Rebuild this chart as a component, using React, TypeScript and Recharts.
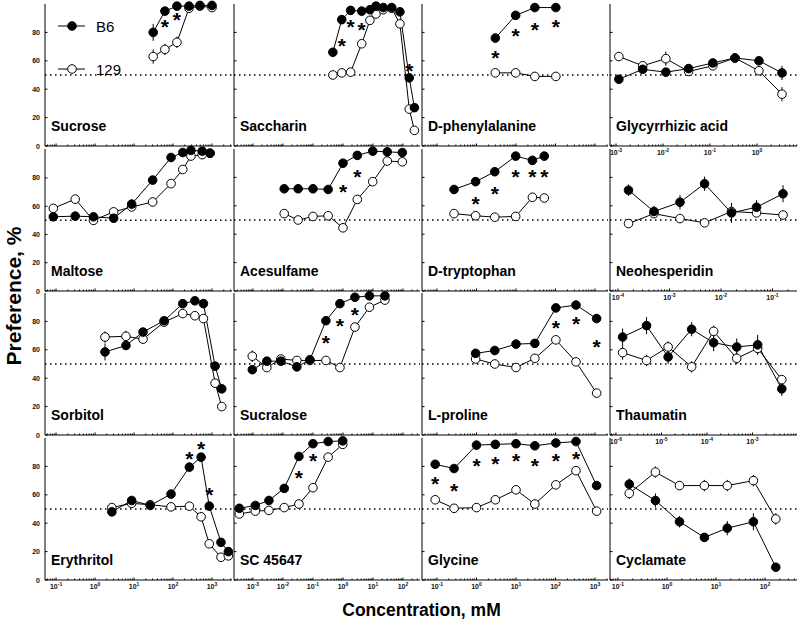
import React from 'react';
import { ComposedChart, Line, XAxis, YAxis, ReferenceLine, ErrorBar } from 'recharts';

const FONT = '"Liberation Sans", Arial, Helvetica, sans-serif';

// ---------------- data (concentration in mM, preference in %) ----------------
// Sucrose
const sucroseConc = [31, 62, 126, 257, 490, 1000];
const sucroseB6 = [80, 95, 98.5, 98.5, 99, 99];
const sucrose129 = [63, 68, 73, 97, 98.5, 97.5];
const sucroseB6Err = [6, 2, 1, 1, 1, 1];
const sucrose129Err = [5, 4, 4, 1, 1, 1];
const sucroseStars = [null, 87, 92, null, null, null];

// Saccharin
const saccharinConc = [0.46, 0.91, 1.8, 4.2, 7.9, 12.6, 22, 42, 79, 162, 240];
const saccharinB6 = [66, 89, 95.5, 95, 96, 98.5, 97.5, 97.5, 94.5, 48, 27];
const saccharin129 = [50, 51.5, 52, 72, 88.5, 93, 96, 97, 86, 26, 11];
const saccharinB6Err = [2, 2, 1, 1, 1, 1, 1, 1, 1, 2, 2];
const saccharin129Err = [2, 2, 2, 2, 1, 1, 1, 1, 2, 2, 2];
const saccharinStars = [null, 74, 87, 85.5, null, null, null, null, null, 56, null];

// D-phenylalanine
const dpheConc = [3, 9.8, 30, 102];
const dpheB6 = [76, 92, 97.5, 97.5];
const dphe129 = [51.5, 51.5, 49, 49];
const dpheB6Err = [3, 1, 1, 1];
const dphe129Err = [1.5, 1, 1.5, 2];
const dpheStars = [65.5, 81, 85, 87];

// Glycyrrhizic acid
const glycConc = [0.00115, 0.0037, 0.0115, 0.035, 0.115, 0.34, 1.1, 3.4];
const glycB6 = [47, 54, 52, 54.5, 58.5, 62, 60, 51.5];
const glyc129 = [63, 56.5, 61.5, 52.5, 56.5, 62, 53, 36.5];
const glycB6Err = [2, 2, 2, 2, 2, 2, 2, 5];
const glyc129Err = [3, 2, 5, 2, 2, 2, 2, 5];

// Maltose
const maltoseConc = [0.085, 0.31, 0.91, 3, 8.7, 30, 89, 178, 288, 562, 891];
const maltoseB6 = [52.5, 53, 52.5, 51.5, 61.5, 78.5, 94.5, 98, 99.5, 99, 97.5];
const maltose129 = [58.5, 65, 50, 56, 59.5, 63, 76, 86, 95.5, 96.5, 97.5];
const maltoseB6Err = [1.5, 1.5, 2, 1.5, 2, 2, 1, 1, 1, 1, 1];
const maltose129Err = [2, 3, 3, 2, 2, 3, 2, 2, 1, 1, 1];

// Acesulfame
const acesulfameConc = [0.011, 0.032, 0.1, 0.32, 1, 3, 9.8, 30, 95];
const acesulfameB6 = [72, 72, 72, 71.5, 90, 95.5, 98.5, 98, 97.5];
const acesulfame129 = [54.5, 50, 52.5, 53, 44.5, 64.5, 77, 91.5, 91];
const acesulfameB6Err = [2, 2, 3, 2, 2, 1, 1, 1, 1];
const acesulfame129Err = [2, 2, 3, 2, 2, 2, 2, 1, 1];
const acesulfameStars = [null, null, null, null, 73.5, 84, null, null, null];

// D-tryptophan
const dtrpConc = [0.27, 0.95, 2.9, 9.8, 26, 52];
const dtrpB6 = [71.5, 77, 84, 95, 92, 95];
const dtrp129 = [54.5, 53, 52, 52.5, 66, 65.5];
const dtrpB6Err = [3, 3, 2, 1, 2, 1];
const dtrp129Err = [2, 2, 2, 2, 2, 2];
const dtrpStars = [null, 65, 72, 84, 84, 84];

// Neohesperidin
const neoConc = [0.00016, 0.0005, 0.0016, 0.0048, 0.016, 0.049, 0.16];
const neoB6 = [71, 56, 62.5, 75.5, 55, 59, 68.5];
const neo129 = [47.5, 54.5, 51, 48, 56, 55, 53.5];
const neoB6Err = [4, 4, 5, 5, 7, 5, 6];
const neo129Err = [2, 2, 2, 2, 2, 2, 2];

// Sorbitol
const sorbitolConc = [1.8, 6.2, 17, 59, 178, 363, 603, 1200, 1780];
const sorbitolB6 = [58.5, 63, 72.5, 80.5, 92.5, 94.5, 92.5, 48.5, 32.5];
const sorbitol129 = [69, 69.5, 67.5, 79.5, 85.5, 84, 82, 36.5, 20];
const sorbitolB6Err = [6, 3, 2, 2, 1, 1, 1, 2, 2];
const sorbitol129Err = [4, 4, 2, 2, 2, 2, 2, 2, 1];

// Sucralose
const sucraloseConc = [0.00095, 0.0029, 0.0085, 0.029, 0.079, 0.27, 0.79, 2.5, 7.6, 25];
const sucraloseB6 = [46, 52, 52, 48, 53, 80.5, 92.5, 97, 98, 98];
const sucralose129 = [55.5, 47.5, 53.5, 52.5, 52.5, 52.5, 47.5, 76, 90, 95];
const sucraloseB6Err = [2, 2, 2, 2, 2, 2, 1, 1, 1, 1];
const sucralose129Err = [4, 2, 2, 2, 2, 3, 2, 2, 1, 1];
const sucraloseStars = [null, null, null, null, null, 68.5, 80, 88, null, null];

// L-proline
const lproConc = [0.95, 2.9, 10, 30, 102, 330, 1100];
const lproB6 = [57.5, 59.5, 64, 64.5, 89.5, 91.5, 82];
const lpro129 = [53.5, 50, 47.5, 54, 67, 51.5, 29.5];
const lproB6Err = [3, 3, 3, 2, 2, 1, 1];
const lpro129Err = [2, 2, 2, 2, 2, 2, 2];
const lproStars = [null, null, null, null, 79, 81.5, 65.5];

// Thaumatin
const thauConc = [1.4e-6, 4.7e-6, 1.4e-5, 4.6e-5, 1.4e-4, 4.5e-4, 1.3e-3, 4.4e-3];
const thauB6 = [69, 77, 55, 74.5, 65, 62, 63.5, 32.5];
const thau129 = [58, 52.5, 62, 48, 73, 54, 61, 39];
const thauB6Err = [6, 6, 5, 5, 6, 6, 7, 5];
const thau129Err = [5, 4, 4, 4, 4, 4, 4, 3];

// Erythritol
const erythConc = [2.7, 8.7, 26, 89, 263, 525, 851, 1700, 2630];
const erythB6 = [48, 56, 52.5, 60.5, 79.5, 86.5, 52, 26.5, 20];
const eryth129 = [51, 54, 53, 51.5, 52, 44.5, 25.5, 16, 17];
const erythB6Err = [2, 2, 1.5, 1.5, 2, 2, 2, 1.5, 1.5];
const eryth129Err = [2, 2, 1.5, 1.5, 2, 2, 2, 1.5, 1.5];
const erythStars = [null, null, null, null, 88.5, 95.5, 63.5, null, null];

// SC 45647
const scConc = [0.00035, 0.0012, 0.0034, 0.011, 0.034, 0.1, 0.32, 0.98];
const scB6 = [50.5, 52.5, 56, 64.5, 87, 96, 97.5, 98];
const sc129 = [46.5, 48.5, 49, 51, 53.5, 65, 86.5, 95.5];
const scB6Err = [1.5, 1.5, 2, 2, 2, 1, 1, 1];
const sc129Err = [1.5, 1.5, 2, 2, 2, 2, 1, 1];
const scStars = [null, null, null, null, 75.5, 87.5, null, null];

// Glycine
const glycineConc = [0.09, 0.27, 1, 3, 10, 30, 102, 330, 1100];
const glycineB6 = [81.5, 78.5, 95, 95.5, 96, 94.5, 96.5, 97.5, 66.5];
const glycine129 = [56.5, 50.5, 51, 56.5, 63.5, 53.5, 67, 77, 48.5];
const glycineB6Err = [2, 2, 1, 1, 1, 1, 1, 1, 2];
const glycine129Err = [3, 2, 3, 3, 2, 2, 2, 2, 2];
const glycineStars = [71, 66.5, 83.5, 85.5, 87, 83.5, 87.5, 89, null];

// Cyclamate
const cyclConc = [0.17, 0.58, 1.8, 5.8, 17, 58, 166];
const cyclB6 = [67.5, 56, 41, 30, 36.5, 41, 9];
const cycl129 = [61, 76, 66.5, 66.5, 66.5, 70, 43];
const cyclB6Err = [4, 5, 4, 2, 5, 6, 2];
const cycl129Err = [4, 4, 3, 4, 4, 4, 4];

// tick label exponents (labels read "10^n")
const col1TickExps = [-1, 0, 1, 2, 3];
const col2TickExps = [-3, -2, -1, 0, 1, 2];
const col3TickExps = [-1, 0, 1, 2, 3];
const glycTickExps = [-3, -2, -1, 0];
const neoTickExps = [-4, -3, -2, -1];
const thauTickExps = [-6, -5, -4, -3];
const cyclTickExps = [-1, 0, 1, 2];
const yTicks = [0, 20, 40, 60, 80];

// ---------------- layout ----------------
const colLeft = [45, 234, 422, 610];
const colRight = [232, 420, 608, 797];
const rowTop = [4, 149, 293, 438];
const PLOT_H = 142;

const col1Domain: [number, number] = [0.052, 3260];
const col2Domain: [number, number] = [0.000233, 369];
const col3Domain: [number, number] = [0.0417, 2133];
const glycDomain: [number, number] = [0.000745, 7.1];
const neoDomain: [number, number] = [0.00007, 0.299];
const thauDomain: [number, number] = [7.4e-7, 0.0095];
const cyclDomain: [number, number] = [0.0687, 450];

type PanelDef = {
  name: string;
  row: number;
  col: number;
  conc: number[];
  b6: number[];
  s129: number[];
  b6Err: number[];
  s129Err: number[];
  stars?: (number | null)[];
  domain: [number, number];
  exps: number[];
};

const panels: PanelDef[] = [
  { name: 'Sucrose', row: 0, col: 0, conc: sucroseConc, b6: sucroseB6, s129: sucrose129, b6Err: sucroseB6Err, s129Err: sucrose129Err, stars: sucroseStars, domain: col1Domain, exps: col1TickExps },
  { name: 'Saccharin', row: 0, col: 1, conc: saccharinConc, b6: saccharinB6, s129: saccharin129, b6Err: saccharinB6Err, s129Err: saccharin129Err, stars: saccharinStars, domain: col2Domain, exps: col2TickExps },
  { name: 'D-phenylalanine', row: 0, col: 2, conc: dpheConc, b6: dpheB6, s129: dphe129, b6Err: dpheB6Err, s129Err: dphe129Err, stars: dpheStars, domain: col3Domain, exps: col3TickExps },
  { name: 'Glycyrrhizic acid', row: 0, col: 3, conc: glycConc, b6: glycB6, s129: glyc129, b6Err: glycB6Err, s129Err: glyc129Err, domain: glycDomain, exps: glycTickExps },
  { name: 'Maltose', row: 1, col: 0, conc: maltoseConc, b6: maltoseB6, s129: maltose129, b6Err: maltoseB6Err, s129Err: maltose129Err, domain: col1Domain, exps: col1TickExps },
  { name: 'Acesulfame', row: 1, col: 1, conc: acesulfameConc, b6: acesulfameB6, s129: acesulfame129, b6Err: acesulfameB6Err, s129Err: acesulfame129Err, stars: acesulfameStars, domain: col2Domain, exps: col2TickExps },
  { name: 'D-tryptophan', row: 1, col: 2, conc: dtrpConc, b6: dtrpB6, s129: dtrp129, b6Err: dtrpB6Err, s129Err: dtrp129Err, stars: dtrpStars, domain: col3Domain, exps: col3TickExps },
  { name: 'Neohesperidin', row: 1, col: 3, conc: neoConc, b6: neoB6, s129: neo129, b6Err: neoB6Err, s129Err: neo129Err, domain: neoDomain, exps: neoTickExps },
  { name: 'Sorbitol', row: 2, col: 0, conc: sorbitolConc, b6: sorbitolB6, s129: sorbitol129, b6Err: sorbitolB6Err, s129Err: sorbitol129Err, domain: col1Domain, exps: col1TickExps },
  { name: 'Sucralose', row: 2, col: 1, conc: sucraloseConc, b6: sucraloseB6, s129: sucralose129, b6Err: sucraloseB6Err, s129Err: sucralose129Err, stars: sucraloseStars, domain: col2Domain, exps: col2TickExps },
  { name: 'L-proline', row: 2, col: 2, conc: lproConc, b6: lproB6, s129: lpro129, b6Err: lproB6Err, s129Err: lpro129Err, stars: lproStars, domain: col3Domain, exps: col3TickExps },
  { name: 'Thaumatin', row: 2, col: 3, conc: thauConc, b6: thauB6, s129: thau129, b6Err: thauB6Err, s129Err: thau129Err, domain: thauDomain, exps: thauTickExps },
  { name: 'Erythritol', row: 3, col: 0, conc: erythConc, b6: erythB6, s129: eryth129, b6Err: erythB6Err, s129Err: eryth129Err, stars: erythStars, domain: col1Domain, exps: col1TickExps },
  { name: 'SC 45647', row: 3, col: 1, conc: scConc, b6: scB6, s129: sc129, b6Err: scB6Err, s129Err: sc129Err, stars: scStars, domain: col2Domain, exps: col2TickExps },
  { name: 'Glycine', row: 3, col: 2, conc: glycineConc, b6: glycineB6, s129: glycine129, b6Err: glycineB6Err, s129Err: glycine129Err, stars: glycineStars, domain: col3Domain, exps: col3TickExps },
  { name: 'Cyclamate', row: 3, col: 3, conc: cyclConc, b6: cyclB6, s129: cycl129, b6Err: cyclB6Err, s129Err: cycl129Err, domain: cyclDomain, exps: cyclTickExps },
];

function buildTicks(domain: [number, number]): number[] {
  const lo = Math.floor(Math.log10(domain[0]));
  const hi = Math.ceil(Math.log10(domain[1]));
  const out: number[] = [];
  for (let d = lo; d <= hi; d++) {
    for (let m = 1; m <= 9; m++) {
      const v = m * Math.pow(10, d);
      if (v >= domain[0] && v <= domain[1]) out.push(v);
    }
  }
  return out;
}

function makeXTick(showLabel: boolean, exps: number[]) {
  return (props: any) => {
    const { x, y, payload } = props;
    const lg = Math.log10(payload.value);
    const e = Math.round(lg);
    const major = Math.abs(lg - e) < 1e-6;
    const labelled = major && showLabel && exps.indexOf(e) >= 0;
    return (
      <g>
        <line x1={x} x2={x} y1={y} y2={y - (major ? 2.5 : 1.5)} stroke="#000" strokeWidth={1} />
        {labelled && (
          <text x={x} y={y + 9} textAnchor="middle" fontFamily={FONT} fontSize={7} fontWeight="bold" fill="#111">
            10<tspan dy={-3} fontSize={5}>{String(e)}</tspan>
          </text>
        )}
      </g>
    );
  };
}

function makeYTick(showLabel: boolean) {
  return (props: any) => {
    const { x, y, payload } = props;
    return (
      <g>
        <line x1={x} x2={x + 2.5} y1={y} y2={y} stroke="#000" strokeWidth={1} />
        {showLabel && (
          <text x={x - 5} y={y + 2.5} textAnchor="end" fontFamily={FONT} fontSize={7} fontWeight="bold" fill="#111">
            {payload.value}
          </text>
        )}
      </g>
    );
  };
}

const R = 4.3;
const renderFilled = (p: any) =>
  p.cx == null || p.cy == null || p.value == null ? (
    <g key={`f${p.index}`} />
  ) : (
    <circle key={`f${p.index}`} cx={p.cx} cy={p.cy} r={R} fill="#000" stroke="#000" strokeWidth={1} />
  );
const renderOpen = (p: any) =>
  p.cx == null || p.cy == null || p.value == null ? (
    <g key={`o${p.index}`} />
  ) : (
    <circle key={`o${p.index}`} cx={p.cx} cy={p.cy} r={R} fill="#fff" stroke="#000" strokeWidth={1} />
  );
const renderStar = (p: any) =>
  p.cx == null || p.cy == null || p.value == null ? (
    <g key={`s${p.index}`} />
  ) : (
    <text key={`s${p.index}`} x={p.cx} y={p.cy + 12} textAnchor="middle" fontFamily={FONT} fontSize={21} fontWeight="bold" fill="#000">
      *
    </text>
  );

function Panel({ p }: { p: PanelDef }) {
  const w = colRight[p.col] - colLeft[p.col];
  const ML = 40, MR = 40, MT = 10, MB = 30;
  const data = p.conc.map((c, i) => ({
    x: c,
    b6: p.b6[i],
    s129: p.s129[i],
    b6Err: p.b6Err[i],
    s129Err: p.s129Err[i],
    star: p.stars ? p.stars[i] : null,
  }));
  const ticks = buildTicks(p.domain);
  const showX = p.row === 3 || p.col === 3;
  return (
    <div style={{ position: 'absolute', left: colLeft[p.col] - ML, top: rowTop[p.row] - MT }}>
      <ComposedChart width={w + ML + MR} height={PLOT_H + MT + MB} data={data} margin={{ top: MT, right: MR, bottom: MB - 1, left: ML - 1 }}>
        <XAxis
          dataKey="x"
          type="number"
          scale="log"
          domain={p.domain}
          ticks={ticks}
          interval={0}
          tick={makeXTick(showX, p.exps)}
          tickLine={false}
          tickSize={0}
          tickMargin={0}
          axisLine={{ stroke: '#000', strokeWidth: 1 }}
          height={1}
        />
        <YAxis
          type="number"
          domain={[0, 100]}
          ticks={yTicks}
          interval={0}
          tick={makeYTick(p.col === 0)}
          tickLine={false}
          tickSize={0}
          tickMargin={0}
          axisLine={{ stroke: '#000', strokeWidth: 1 }}
          width={1}
        />
        <ReferenceLine y={50} stroke="#000" strokeWidth={1.5} strokeDasharray="1.5 3.5" />
        <Line dataKey="s129" stroke="#000" strokeWidth={1} dot={renderOpen} activeDot={false} isAnimationActive={false} connectNulls>
          <ErrorBar dataKey="s129Err" width={0} stroke="#000" strokeWidth={1} direction="y" />
        </Line>
        <Line dataKey="b6" stroke="#000" strokeWidth={1} dot={renderFilled} activeDot={false} isAnimationActive={false} connectNulls>
          <ErrorBar dataKey="b6Err" width={0} stroke="#000" strokeWidth={1} direction="y" />
        </Line>
        {p.stars && <Line dataKey="star" stroke="none" dot={renderStar} activeDot={false} isAnimationActive={false} />}
      </ComposedChart>
    </div>
  );
}

export default function App() {
  const rowZero = rowTop.map((t) => t + PLOT_H);
  return (
    <div style={{ position: 'absolute', left: 0, top: 0, width: 800, height: 624, background: '#fff', overflow: 'hidden' }}>
      {panels.map((p) => (
        <Panel key={p.name} p={p} />
      ))}
      <svg width={800} height={624} style={{ position: 'absolute', left: 0, top: 0, pointerEvents: 'none' }}>
        {panels.map((p) => (
          <text key={p.name} x={colLeft[p.col] + 6} y={rowZero[p.row] - 15.5} fontFamily={FONT} fontSize={14} fontWeight="bold" fill="#000">
            {p.name}
          </text>
        ))}
        {/* legend */}
        <line x1={58} x2={85} y1={26} y2={26} stroke="#000" strokeWidth={1} />
        <circle cx={72} cy={26} r={R} fill="#000" stroke="#000" />
        <text x={96} y={31.5} fontFamily={FONT} fontSize={15} fill="#000">B6</text>
        <line x1={58} x2={85} y1={69} y2={69} stroke="#000" strokeWidth={1} />
        <circle cx={72} cy={69} r={R} fill="#fff" stroke="#000" />
        <text x={96} y={74.5} fontFamily={FONT} fontSize={15} fill="#000">129</text>
        {/* axis titles */}
        <text x={421.5} y={616} textAnchor="middle" fontFamily={FONT} fontSize={17.5} fontWeight="bold" fill="#000">
          Concentration, mM
        </text>
        <text x={21} y={296} transform="rotate(-90, 21, 296)" textAnchor="middle" fontFamily={FONT} fontSize={21} fontWeight="bold" fill="#000">
          Preference, %
        </text>
      </svg>
    </div>
  );
}
